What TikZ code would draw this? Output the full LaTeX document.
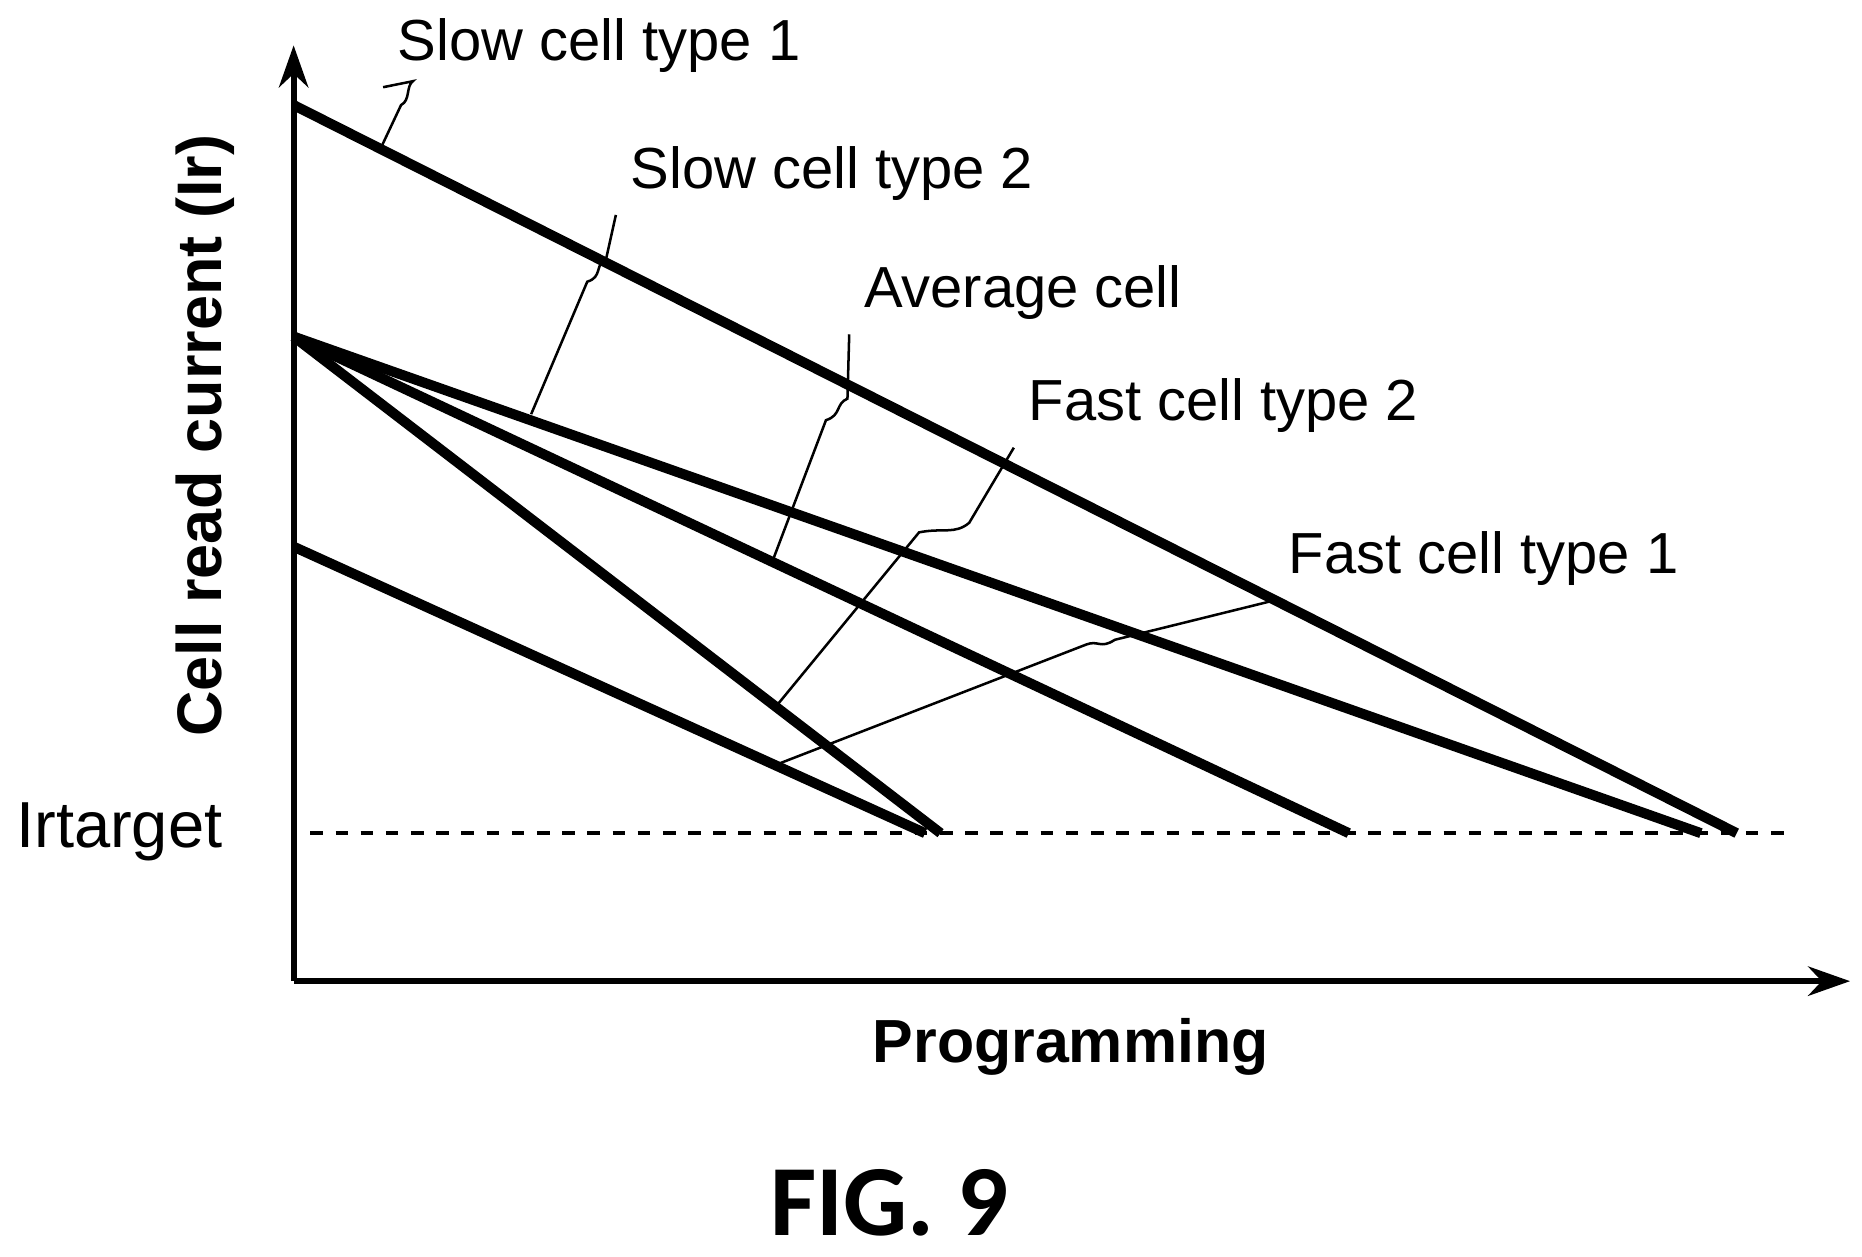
\documentclass[tikz,border=0pt]{standalone}
\usepackage{fontspec}
\setmainfont{Liberation Sans}
\newfontfamily\figfont{Carlito}
\usetikzlibrary{arrows.meta}
\begin{document}
\begin{tikzpicture}[x=0.01cm,y=-0.01cm,font=\fontsize{13.8}{16}\selectfont,
  curve/.style={line width=2.4pt},
  leader/.style={line width=0.6pt}]
\useasboundingbox (0,0) rectangle (1560,1053);

% axes
\coordinate (o) at (246,822);
\coordinate (ytop) at (246,38);
\coordinate (xend) at (1550,822);
\draw[line width=1.4pt,-{Stealth[length=10pt,width=7pt]}] (o) -- (ytop);
\draw[line width=1.4pt,-{Stealth[length=10pt,width=7pt]}] (o) -- (xend);

% target level
\coordinate (tl) at (260,698);
\coordinate (tr) at (1502,698);
\draw[dashed,line width=0.9pt] (tl) -- (tr);
\node (irt) at (100,697) {\fontsize{15.5}{17}\selectfont Irtarget};

% programming curves
\coordinate (s1a) at (246,88);   \coordinate (s1b) at (1455,698);
\coordinate (p0)  at (246,282);
\coordinate (s2b) at (1425,698);
\coordinate (avb) at (1130,698);
\coordinate (f2b) at (788,698);
\coordinate (f1a) at (246,458);  \coordinate (f1b) at (775,698);
\draw[curve] (s1a) -- (s1b);
\draw[curve] (p0) -- (s2b);
\draw[curve] (p0) -- (avb);
\draw[curve] (p0) -- (f2b);
\draw[curve] (f1a) -- (f1b);

% labels
\node (s1) at (502,38)   {Slow cell type 1};
\node (s2) at (697,145)  {Slow cell type 2};
\node (av) at (857,245)  {Average cell};
\node (f2) at (1025,340) {Fast cell type 2};
\node (f1) at (1243,468) {Fast cell type 1};

% leaders
\draw[leader] (320,122) -- (336,88) .. controls (344,84) and (340,72) .. (346,68) -- (s1.south west);
\draw[leader] (445,347) -- (492,236) .. controls (505,232) and (498,222) .. (508,216) -- (s2.south west);
\draw[leader] (648,468) -- (692,352) .. controls (705,348) and (700,338) .. (710,334) -- (av.south west);
\draw[leader] (650,592) -- (770,446) .. controls (790,442) and (800,448) .. (812,438) -- (f2.south west);
\draw[leader] (652,640) -- (910,540) .. controls (920,536) and (922,544) .. (934,536) -- (f1.south west);

% axis titles
\node[rotate=90,font=\fontsize{15}{17}\selectfont\bfseries] (yl) at (172,365) {Cell read current (Ir)};
\node[font=\fontsize{14.5}{17}\selectfont\bfseries] (xl) at (897,877) {Programming};
\node[font=\figfont\fontsize{24}{28}\selectfont\bfseries,inner sep=1pt] (fig) at (745,1008) {FIG. 9};
\end{tikzpicture}
\end{document}
